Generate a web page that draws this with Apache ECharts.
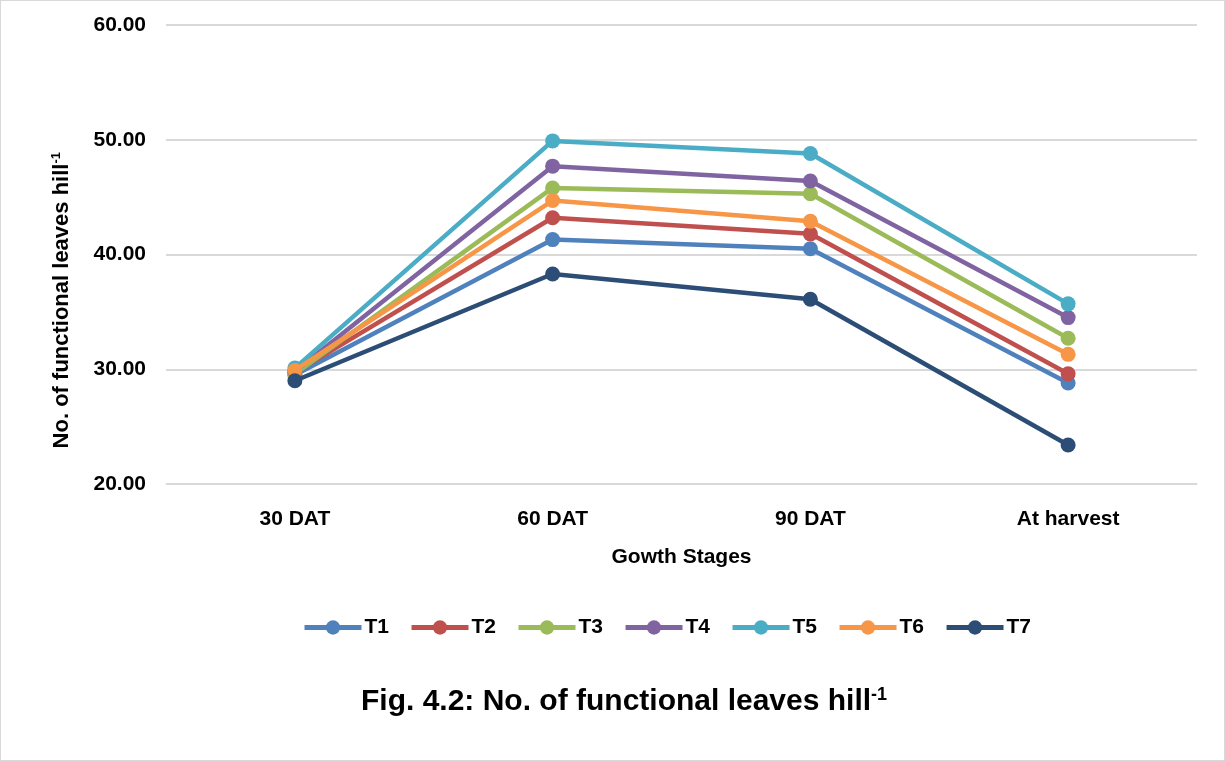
<!DOCTYPE html>
<html><head><meta charset="utf-8">
<script src="https://cdn.jsdelivr.net/npm/echarts@6/dist/echarts.min.js"></script>
<style>
html,body{margin:0;padding:0;background:#fff;}
#frame{position:absolute;left:0;top:0;width:1223px;height:759px;border:1px solid #d9d9d9;}
#c{position:absolute;left:0;top:0;width:1225px;height:761px;}
</style></head>
<body><div id="frame"></div><div id="c"></div>
<script>
var categories = ['30 DAT', '60 DAT', '90 DAT', 'At harvest'];
var T1 = [29.5, 41.3, 40.5, 28.8];
var T2 = [29.7, 43.2, 41.8, 29.6];
var T3 = [29.6, 45.8, 45.3, 32.7];
var T4 = [29.8, 47.7, 46.4, 34.5];
var T5 = [30.1, 49.9, 48.8, 35.7];
var T6 = [29.9, 44.7, 42.9, 31.3];
var T7 = [29.0, 38.3, 36.1, 23.4];
var seriesNames = ['T1','T2','T3','T4','T5','T6','T7'];
var seriesData = [T1,T2,T3,T4,T5,T6,T7];
var colors = ['#4F81BD','#C0504D','#9BBB59','#8064A2','#4BACC6','#F79646','#2C4D75'];
var FONT = '"Liberation Sans",Arial,sans-serif';

var chart = echarts.init(document.getElementById('c'));
var series = seriesNames.map(function(n,i){
  return {
    name:n, type:'line', data:seriesData[i],
    symbol:'circle', symbolSize:15,
    lineStyle:{width:4.5, color:colors[i]},
    itemStyle:{color:colors[i]},
    z: 2 + i
  };
});
chart.setOption({
  animation:false,
  color:colors,
  textStyle:{fontFamily:FONT},
  title:{
    text:'{m|Fig. 4.2: No. of functional leaves hill}{s|-1}',
    left:356, top:681,
    textStyle:{rich:{
      m:{fontFamily:FONT,fontWeight:'bold',fontSize:30,color:'#000'},
      s:{fontFamily:FONT,fontWeight:'bold',fontSize:18,color:'#000',verticalAlign:'top',padding:[0,0,14,0]}
    }}
  },
  legend:{
    data:seriesNames, top:612, left:297,
    itemWidth:57, itemHeight:18, itemGap:20,
    lineStyle:{width:5},
    textStyle:{fontFamily:FONT,fontWeight:'bold',fontSize:21,color:'#000',padding:[0,0,0,-2]}
  },
  graphic:[{
    type:'text', left:50, top:152, rotation:Math.PI/2,
    style:{
      text:'{m|No. of functional leaves hill}{s|-1}',
      rich:{
        m:{fontFamily:FONT,fontWeight:'bold',fontSize:22,fill:'#000'},
        s:{fontFamily:FONT,fontWeight:'bold',fontSize:13,fill:'#000',verticalAlign:'top',padding:[0,0,10,0]}
      }
    }
  }],
  grid:{left:166, right:28, top:25, bottom:277, containLabel:false},
  xAxis:{
    type:'category', data:categories, boundaryGap:true,
    axisLine:{lineStyle:{color:'#d9d9d9',width:1}},
    axisTick:{show:false},
    axisLabel:{fontFamily:FONT,fontWeight:'bold',fontSize:21,color:'#000',margin:25},
    name:'Gowth Stages', nameLocation:'middle', nameGap:63,
    nameTextStyle:{fontFamily:FONT,fontWeight:'bold',fontSize:21,color:'#000'}
  },
  yAxis:{
    type:'value', min:20, max:60, interval:10,
    axisLine:{show:false}, axisTick:{show:false},
    splitLine:{lineStyle:{color:'#d9d9d9',width:2}},
    axisLabel:{fontFamily:FONT,fontWeight:'bold',fontSize:21,color:'#000',margin:20,
      formatter:function(v){return v.toFixed(2);}}
  },
  series:series
});
</script></body></html>
